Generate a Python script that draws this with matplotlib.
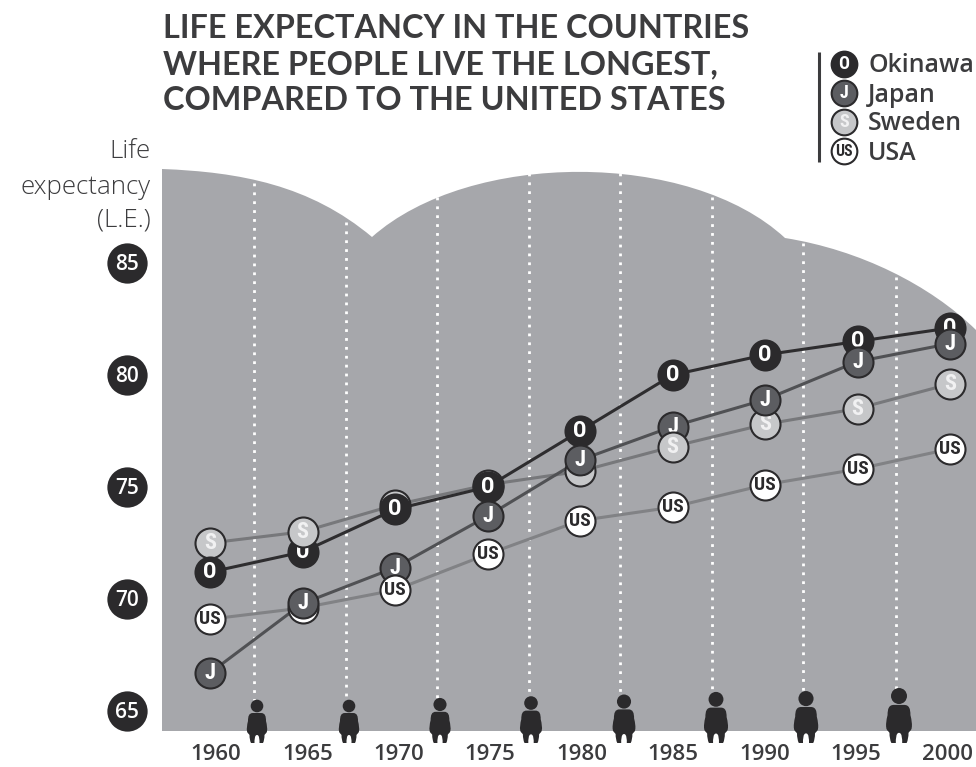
import matplotlib
matplotlib.use("Agg")
import matplotlib.pyplot as plt
import matplotlib.patches as pat
from matplotlib.path import Path

# data
years = [1960, 1965, 1970, 1975, 1980, 1985, 1990, 1995, 2000]
okinawa = [71.2, 72.1, 74.0, 75.0, 77.5, 80.0, 80.9, 81.5, 82.1]
japan = [66.7, 69.8, 71.4, 73.7, 76.2, 77.7, 78.9, 80.6, 81.4]
sweden = [72.5, 73.0, 74.2, 75.1, 75.7, 76.8, 77.8, 78.5, 79.6]
usa = [69.1, 69.6, 70.4, 72.0, 73.5, 74.1, 75.1, 75.8, 76.7]
y_ticks = [85, 80, 75, 70, 65]
legend_names = ["Okinawa", "Japan", "Sweden", "USA"]
legend_y = [64, 93, 122, 151]
title_lines = ["LIFE EXPECTANCY IN THE COUNTRIES",
               "WHERE PEOPLE LIVE THE LONGEST,",
               "COMPARED TO THE UNITED STATES"]

DARK = "#2b2a2c"
TXT = "#3c3c3e"
GREY = "#a6a7ab"
LETTER_FONT = ["Roboto Condensed", "Roboto", "DejaVu Sans"]

# name, values, fill, letter colour, line colour, base zorder
series = [
    ("US", usa, "#ffffff", DARK, "#818285", 4),
    ("S", sweden, "#c6c7c9", "#f1f1f2", "#77787b", 5),
    ("O", okinawa, DARK, "#ffffff", "#2e2d2f", 6),
    ("J", japan, "#5c5d61", "#ffffff", "#505154", 7),
]
# points where the overlap goes the other way round
on_top = [("S", 1965, 6.5), ("US", 1970, 8), ("S", 1985, 8)]

people_x = [257, 349, 440, 531, 624, 716, 806, 899]
people_scale = [1.0, 1.0, 1.04, 1.08, 1.12, 1.18, 1.2, 1.27]
dots_x = [254, 346, 437, 529, 620, 712, 803, 896]
dots_top = [183, 222, 197, 173, 173, 197, 243, 277]


def draw_person(ax, x, s):
    bottom = 743
    ax.add_patch(pat.Circle((x, bottom - 37 * s), 6.3 * s, color=DARK, lw=0, zorder=3))
    half = [(-4, 30), (-8, 30), (-9, 27), (-9, 22),
            (-10, 18), (-10.5, 14), (-10, 12),
            (-10, 10), (-8, 9), (-7.5, 8),
            (-7.5, 5), (-7, 2), (-6, 0),
            (-5, 0), (-4, 0), (-2.5, 0),
            (-2.5, 3), (-2.5, 8), (0, 8)]
    pts = half + [(-a, b) for a, b in half[-2::-1]]
    verts = [(x + a * s, bottom - b * s) for a, b in pts]
    codes = [Path.MOVETO] + [Path.CURVE4] * (len(verts) - 1)
    ax.add_patch(pat.PathPatch(Path(verts, codes), facecolor=DARK, lw=0, zorder=3))


def add_badge(ax, x, y, letter, fill, col, r=21.6, fs=16, z=5):
    ax.scatter([x], [y], s=r ** 2, c=fill, edgecolors=DARK, linewidths=1.5, zorder=z)
    if letter == "US":
        fs = fs * 0.875
    ax.text(x, y, letter, color=col, fontsize=fs, fontweight="black", ha="center", va="center",
            family=LETTER_FONT, zorder=z + 0.01)


def main():
    fig = plt.figure(figsize=(9.76, 7.67), dpi=100)

    # background pieces are laid out in pixels
    bg = fig.add_axes([0, 0, 1, 1])
    bg.set_xlim(0, 976)
    bg.set_ylim(767, 0)
    bg.axis("off")

    verts = [(162, 731), (162, 169),
             (240, 172), (310, 185), (372, 237),
             (470, 150), (690, 150), (785, 238),
             (860, 250), (930, 285), (976, 330),
             (976, 731), (162, 731)]
    codes = [Path.MOVETO, Path.LINETO] + [Path.CURVE4] * 9 + [Path.LINETO, Path.CLOSEPOLY]
    bg.add_patch(pat.PathPatch(Path(verts, codes), facecolor=GREY, lw=0))

    for x, t in zip(dots_x, dots_top):
        bg.plot([x, x], [t, 700], color="white", lw=2, ls=(0, (1, 2.2)), zorder=2)
    for x, s in zip(people_x, people_scale):
        draw_person(bg, x, s)

    # chart scale: 18.5 px per year, 22.4 px per unit of L.E.
    ax = fig.add_axes([0, 0, 1, 1])
    ax.patch.set_alpha(0)
    ax.set_xlim(1960 - 210 / 18.5, 1960 + 766 / 18.5)
    ax.set_ylim(65 - 56 / 22.4, 65 + 711 / 22.4)
    ax.axis("off")

    for name, vals, fill, col, line, z in series:
        ax.plot(years, vals, color=line, lw=2.2, zorder=3)
        for yr, v in zip(years, vals):
            zz = z
            for n, y2, z2 in on_top:
                if n == name and y2 == yr:
                    zz = z2
            add_badge(ax, yr, v, name, fill, col, z=zz)

    badge_x = 1960 - 83 / 18.5
    for v in y_ticks:
        ax.scatter([badge_x], [v], s=29 ** 2, c=DARK, linewidths=0, zorder=5)
        ax.annotate(str(v), (badge_x, v), xytext=(0, -1.2), textcoords="offset points",
                    color="white", fontsize=15, fontweight="semibold",
                    family="Open Sans", ha="center", va="center", zorder=6)

    for yr in years:
        bg.text(216 + (yr - 1960) * 18.28, 755, str(yr), color=TXT, fontsize=16,
                fontweight="semibold", family="Open Sans", ha="center", va="center")

    for i, line in enumerate(title_lines):
        bg.text(163, 29 + 36 * i, line, color=TXT, fontsize=23.3, fontweight="bold",
                family="Lato", ha="left", va="center")

    for t, y in zip(["Life", "expectancy", "(L.E.)"], [152, 187, 220]):
        bg.text(151, y, t, color=TXT, fontsize=18.6, fontweight="light", family="Open Sans",
                ha="right", va="center")

    # legend
    bg.plot([819, 819], [52, 162], color=TXT, lw=2.2, solid_capstyle="butt")
    order = [series[2], series[3], series[1], series[0]]
    for (name, vals, fill, col, line, z), lab, y in zip(order, legend_names, legend_y):
        add_badge(bg, 844, y, name, fill, col, r=18.5, fs=13, z=5)
        bg.text(868, y + 2, lab, color=TXT, fontsize=17.9, fontweight="semibold", family="Open Sans",
                ha="left", va="center")

    fig.savefig("out.png", dpi=100)


if __name__ == "__main__":
    main()
